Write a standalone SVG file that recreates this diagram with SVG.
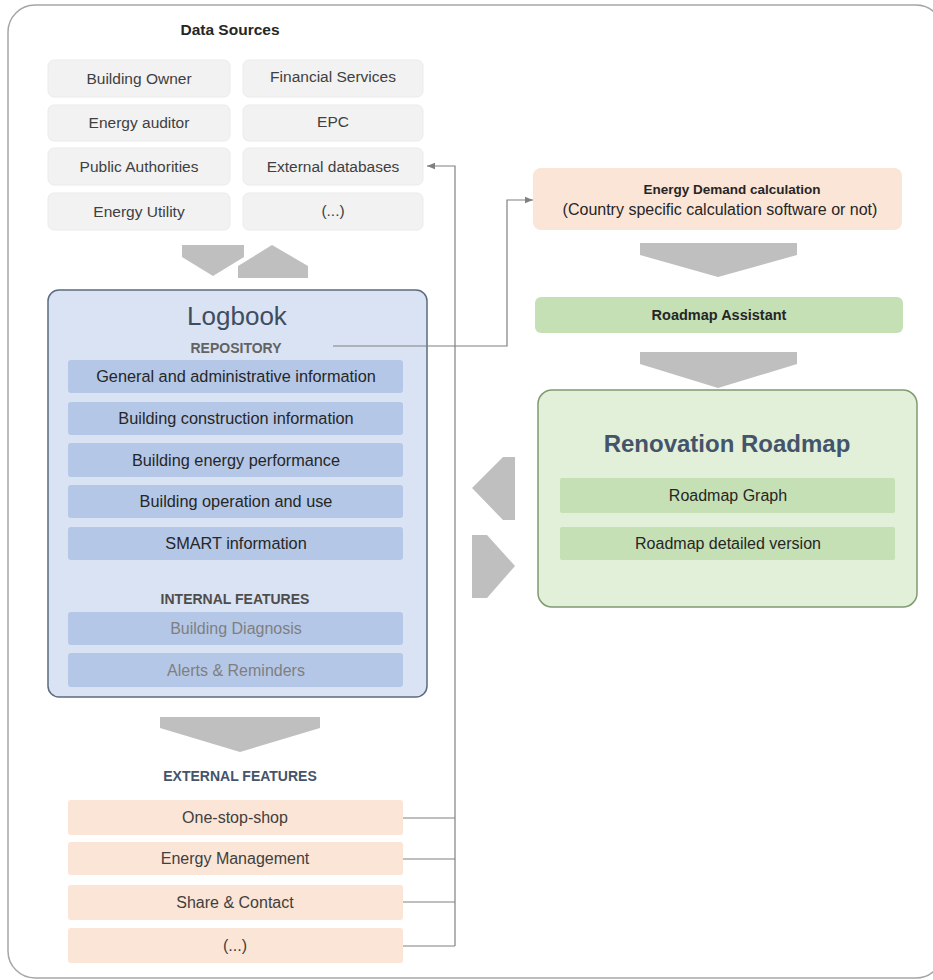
<svg xmlns="http://www.w3.org/2000/svg" width="933" height="980" viewBox="0 0 933 980">
  <defs>
    <marker id="arrowhead" viewBox="0 0 10 10" refX="10" refY="5" markerWidth="8" markerHeight="8" markerUnits="userSpaceOnUse" orient="auto">
      <path d="M0,1 L10,5 L0,9 Z" fill="#808080"/>
    </marker>
    <style>
      text { font-family: "Liberation Sans", Arial, sans-serif; text-anchor: middle; }
      .src { fill: #f2f2f2; stroke: #ebebeb; stroke-width: 1; }
      .src-t { font-size: 15.5px; fill: #404040; }
      .bar-blue { fill: #b4c7e7; }
      .bar-green { fill: #c5e0b4; }
      .bar-peach { fill: #fbe5d6; }
      .item { font-size: 16px; fill: #262626; }
      .log-item { font-size: 16.3px; fill: #262626; }
      .muted { font-size: 16px; fill: #7f7f7f; }
      .ext { font-size: 16px; fill: #404040; }
      .caps { font-size: 14px; font-weight: bold; }
      .chev { fill: #bfbfbf; }
      .conn { fill: none; stroke: #808080; stroke-width: 1.2; }
    </style>
  </defs>

  <!-- outer frame -->
  <rect x="8" y="5" width="935" height="973" rx="27" fill="#ffffff" stroke="#a6a6a6" stroke-width="1.5"/>

  <!-- data sources -->
  <g id="data-sources">
    <text x="230" y="35" style="font-size:15.5px;font-weight:bold;fill:#262626">Data Sources</text>
    <g id="ds-building-owner">
      <rect class="src" x="48" y="60" width="182" height="37" rx="6"/>
      <text class="src-t" x="139" y="84">Building Owner</text>
    </g>
    <g id="ds-financial-services">
      <rect class="src" x="243" y="60" width="180" height="37" rx="6"/>
      <text class="src-t" x="333" y="82">Financial Services</text>
    </g>
    <g id="ds-energy-auditor">
      <rect class="src" x="48" y="105" width="182" height="36" rx="6"/>
      <text class="src-t" x="139" y="128">Energy auditor</text>
    </g>
    <g id="ds-epc">
      <rect class="src" x="243" y="105" width="180" height="36" rx="6"/>
      <text class="src-t" x="333" y="127">EPC</text>
    </g>
    <g id="ds-public-authorities">
      <rect class="src" x="48" y="148" width="182" height="37" rx="6"/>
      <text class="src-t" x="139" y="172">Public Authorities</text>
    </g>
    <g id="ds-external-databases">
      <rect class="src" x="243" y="148" width="180" height="37" rx="6"/>
      <text class="src-t" x="333" y="172">External databases</text>
    </g>
    <g id="ds-energy-utility">
      <rect class="src" x="48" y="193" width="182" height="37" rx="6"/>
      <text class="src-t" x="139" y="217">Energy Utility</text>
    </g>
    <g id="ds-more">
      <rect class="src" x="243" y="193" width="180" height="37" rx="6"/>
      <text class="src-t" x="333" y="216">(...)</text>
    </g>
  </g>

  <!-- block arrows -->
  <g id="flow-arrows">
    <polygon class="chev" points="182,245 244,245 244,257 213,276 182,257"/>
    <polygon class="chev" points="238,278 308,278 308,266 272,245 238,266"/>
    <polygon class="chev" points="640,243 797,243 797,255 718,277 640,255"/>
    <polygon class="chev" points="640,352 797,352 797,364 718,388 640,364"/>
    <polygon class="chev" points="160,717 320,717 320,728 240,752 160,728"/>
    <polygon class="chev" points="515,457 503,457 472,488 503,520 515,520"/>
    <polygon class="chev" points="472,535 487,535 515,566 487,598 472,598"/>
  </g>

  <!-- logbook -->
  <g id="logbook">
    <rect x="48" y="290" width="379" height="407" rx="11" fill="#dae3f3" stroke="#5b6b80" stroke-width="1.5"/>
    <text x="237" y="325" style="font-size:26px;fill:#3f4d60">Logbook</text>
    <text class="caps" x="236" y="353" fill="#636363">REPOSITORY</text>
    <g id="repo-general">
      <rect class="bar-blue" x="68" y="360" width="335" height="33" rx="3"/>
      <text class="log-item" x="236" y="382">General and administrative information</text>
    </g>
    <g id="repo-construction">
      <rect class="bar-blue" x="68" y="402" width="335" height="33" rx="3"/>
      <text class="log-item" x="236" y="424">Building construction information</text>
    </g>
    <g id="repo-energy">
      <rect class="bar-blue" x="68" y="443" width="335" height="34" rx="3"/>
      <text class="log-item" x="236" y="466">Building energy performance</text>
    </g>
    <g id="repo-operation">
      <rect class="bar-blue" x="68" y="485" width="335" height="33" rx="3"/>
      <text class="log-item" x="236" y="507">Building operation and use</text>
    </g>
    <g id="repo-smart">
      <rect class="bar-blue" x="68" y="527" width="335" height="33" rx="3"/>
      <text class="log-item" x="236" y="549">SMART information</text>
    </g>
    <text class="caps" x="235" y="604" fill="#4d4d4d">INTERNAL FEATURES</text>
    <g id="feat-diagnosis">
      <rect class="bar-blue" x="68" y="612" width="335" height="33" rx="3"/>
      <text class="muted" x="236" y="634">Building Diagnosis</text>
    </g>
    <g id="feat-alerts">
      <rect class="bar-blue" x="68" y="653" width="335" height="34" rx="3"/>
      <text class="muted" x="236" y="676">Alerts &amp; Reminders</text>
    </g>
  </g>

  <!-- energy demand -->
  <g id="energy-demand">
    <rect x="533" y="168" width="369" height="62" rx="8" fill="#fbe5d6"/>
    <text x="732" y="194" style="font-size:13.5px;font-weight:bold;fill:#262626">Energy Demand calculation</text>
    <text x="720" y="215" style="font-size:16px;fill:#262626">(Country specific calculation software or not)</text>
  </g>

  <!-- roadmap assistant -->
  <g id="roadmap-assistant">
    <rect x="535" y="297" width="368" height="36" rx="6" fill="#c5e0b4"/>
    <text x="719" y="320" style="font-size:14.5px;font-weight:bold;fill:#262626">Roadmap Assistant</text>
  </g>

  <!-- renovation roadmap -->
  <g id="renovation-roadmap">
    <rect x="538" y="390" width="379" height="217" rx="14" fill="#e2f0d9" stroke="#7f9a70" stroke-width="1.5"/>
    <text x="727" y="452" style="font-size:24px;font-weight:bold;fill:#44546a">Renovation Roadmap</text>
    <g id="rr-graph">
      <rect class="bar-green" x="560" y="478" width="335" height="35" rx="2"/>
      <text class="item" x="728" y="501">Roadmap Graph</text>
    </g>
    <g id="rr-detailed">
      <rect class="bar-green" x="560" y="527" width="335" height="33" rx="2"/>
      <text class="item" x="728" y="549">Roadmap detailed version</text>
    </g>
  </g>

  <!-- external features -->
  <g id="external-features">
    <text class="caps" x="240" y="781" fill="#44546a">EXTERNAL FEATURES</text>
    <g id="ext-one-stop-shop">
      <rect class="bar-peach" x="68" y="800" width="335" height="35" rx="3"/>
      <text class="ext" x="235" y="823">One-stop-shop</text>
    </g>
    <g id="ext-energy-management">
      <rect class="bar-peach" x="68" y="842" width="335" height="33" rx="3"/>
      <text class="ext" x="235" y="864">Energy Management</text>
    </g>
    <g id="ext-share-contact">
      <rect class="bar-peach" x="68" y="885" width="335" height="35" rx="3"/>
      <text class="ext" x="235" y="908">Share &amp; Contact</text>
    </g>
    <g id="ext-more">
      <rect class="bar-peach" x="68" y="928" width="335" height="35" rx="3"/>
      <text class="ext" x="235" y="951">(...)</text>
    </g>
  </g>

  <!-- connectors -->
  <g id="connectors">
    <polyline class="conn" points="333,346 507,346 507,200 533,200" marker-end="url(#arrowhead)"/>
    <polyline class="conn" points="455,946 455,166 427,166" marker-end="url(#arrowhead)"/>
    <line class="conn" x1="403" y1="818" x2="455" y2="818"/>
    <line class="conn" x1="403" y1="859" x2="455" y2="859"/>
    <line class="conn" x1="403" y1="902" x2="455" y2="902"/>
    <line class="conn" x1="403" y1="946" x2="455" y2="946"/>
  </g>
</svg>
